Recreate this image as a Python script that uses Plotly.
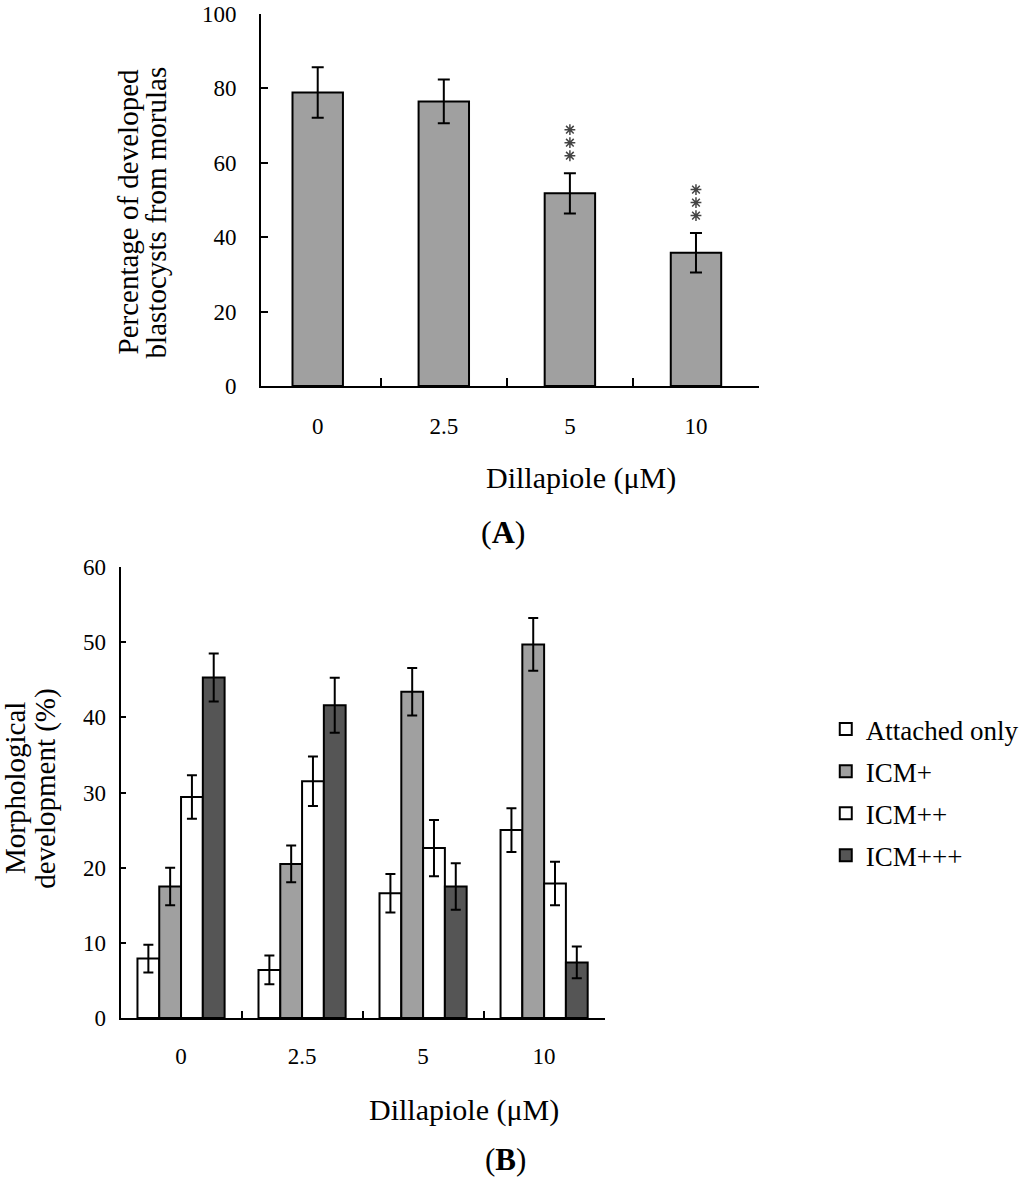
import plotly.graph_objects as go

# panel A
doses = ["0", "2.5", "5", "10"]
blast_pct = [78.9, 76.5, 51.8, 35.8]
blast_err = [6.8, 5.9, 5.4, 5.3]
signif = [0, 0, 3, 3]  # number of stars

# panel B
stages = ["Attached only", "ICM+", "ICM++", "ICM+++"]
stage_pct = [
    [7.9, 6.4, 16.6, 25.0],
    [17.5, 20.5, 43.4, 49.7],
    [29.4, 31.5, 22.6, 17.9],
    [45.3, 41.6, 17.5, 7.4],
]
stage_err = [
    [1.85, 1.9, 2.55, 2.9],
    [2.5, 2.45, 3.15, 3.5],
    [2.9, 3.3, 3.75, 2.9],
    [3.2, 3.65, 3.1, 2.1],
]
stage_colors = ["#ffffff", "#a0a0a0", "#ffffff", "#555555"]

W, H = 1024, 1181
FONT = "Liberation Serif, Times New Roman, serif"


def px(x):
    return x / W


def py(y):
    return 1 - y / H


fig = go.Figure()

fig.add_bar(
    x=doses, y=blast_pct, width=0.4,
    marker=dict(color="#a0a0a0", line=dict(color="black", width=2)),
    error_y=dict(type="data", array=blast_err, color="black", thickness=2, width=6),
    xaxis="x", yaxis="y", showlegend=False,
)

# stacked asterisks above the significant bars
star_x, star_y = [], []
for d, v, e, n in zip(doses, blast_pct, blast_err, signif):
    for k in range(n):
        star_x.append(d)
        star_y.append(v + e + 4.7 + 3.5 * k)
fig.add_scatter(
    x=star_x, y=star_y, mode="markers",
    marker=dict(symbol="asterisk-open", size=9, color="#444444",
                line=dict(color="#444444", width=1.5)),
    xaxis="x", yaxis="y", showlegend=False, hoverinfo="skip",
)

for name, vals, errs, col in zip(stages, stage_pct, stage_err, stage_colors):
    fig.add_bar(
        x=doses, y=vals, name=name, legendgroup=name,
        marker=dict(color=col, line=dict(color="black", width=2)),
        error_y=dict(type="data", array=errs, color="black", thickness=2, width=5),
        xaxis="x2", yaxis="y2",
    )

axis_common = dict(
    showline=True, linecolor="black", linewidth=2,
    ticks="inside", tickcolor="black", tickwidth=2,
    showgrid=False, zeroline=False, automargin=False,
    ticklabeloverflow="allow",
    tickfont=dict(family=FONT, size=23, color="black"),
)

fig.update_layout(
    template="none",
    width=W, height=H,
    margin=dict(l=0, r=0, t=0, b=0, pad=0),
    paper_bgcolor="white", plot_bgcolor="white",
    barmode="group", bargap=0.28, bargroupgap=0,
    font=dict(family=FONT, color="black"),
    xaxis=dict(axis_common, domain=[px(262), px(762)], range=[-0.45, 3.5],
               type="category", tickson="boundaries", ticklen=8,
               ticklabelstandoff=18, anchor="y"),
    yaxis=dict(axis_common, domain=[py(386), py(14)], range=[0, 100],
               dtick=20, ticklen=7, ticklabelstandoff=18, anchor="x"),
    xaxis2=dict(axis_common, domain=[px(121), px(607)], range=[-0.5, 3.5],
                type="category", tickson="boundaries", ticklen=7,
                ticklabelstandoff=16, anchor="y2"),
    yaxis2=dict(axis_common, domain=[py(1018), py(567)], range=[0, 60],
                dtick=10, ticklen=5, ticklabelstandoff=8, anchor="x2"),
    legend=dict(x=px(829), y=py(705), xanchor="left", yanchor="top",
                font=dict(family=FONT, size=27, color="black"),
                tracegroupgap=4, bgcolor="rgba(0,0,0,0)"),
)

labels = [
    ("Dillapiole (\u03bcM)", 583, 478, 30, 0),
    ("(<b>A</b>)", 505, 532, 32, 0),
    ("Percentage of developed", 128, 212, 29, -90),
    ("blastocysts from morulas", 157, 212, 29, -90),
    ("Dillapiole (\u03bcM)", 466, 1110, 30, 0),
    ("(<b>B</b>)", 507, 1159, 31, 0),
    ("Morphological", 15, 788, 29, -90),
    ("development (%)", 45, 788, 29, -90),
]
for txt, x, y, size, ang in labels:
    fig.add_annotation(
        x=px(x), y=py(y), xref="paper", yref="paper",
        xanchor="center", yanchor="middle",
        text=txt, showarrow=False, textangle=ang,
        font=dict(family=FONT, size=size, color="black"),
    )

# drop the default page margin so the 1024x1181 figure fills the window exactly
fig.write_html("out.html", config={"displayModeBar": False},
               post_script="document.body.style.margin = '0';")
